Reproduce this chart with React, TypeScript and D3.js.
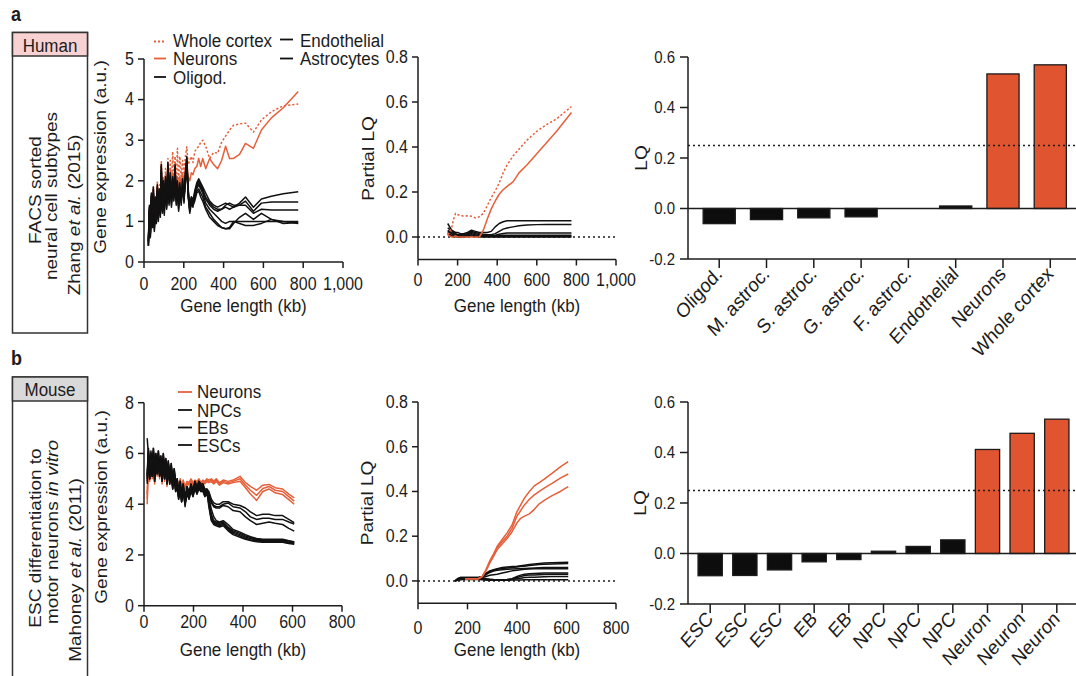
import React from "react";
import * as d3 from "d3";

// ---------------- DATA ----------------
// Panel a, left: gene expression vs gene length (kb)
const aLenKb = [22,27,32,37,42,47,52,57,62,67,72,77,82,87,92,97,102,108,114,120,126,132,138,144,150,156,162,168,174,180,187,194,201,208,215,222,230,238,246,255,265,275,285,295,310,330,350,370,390,410,430,450,480,510,550,590,640,700,775];
const aWholeCortex = [0.4,1.3,0.75,1.65,0.95,1.85,0.9,1.6,1.1,2.0, 1.3,1.9,1.4,2.47,1.5,2.1,1.5,2.3,1.7,2.55, 1.8,2.5,1.8,2.72,1.95,2.6,1.9,2.8,1.9,2.6, 2.1,2.5,2.2,2.6,2.84,2.4,2.5,2.6,2.45,2.72, 2.8,2.85,2.95,3.0, 2.85,2.55,2.7,2.68,2.95,3.1,3.25,3.37,3.4,3.42,3.2,3.5,3.7,3.85,3.89];
const aNeurons = [0.4,1.3,0.7,1.6,0.9,1.8,0.85,1.55,1.05,1.9, 1.2,1.8,1.3,2.4,1.4,2.0,1.4,2.15,1.6,2.45, 1.7,2.3,1.7,2.2,1.85,2.4,1.8,2.1,1.7,2.1, 1.9,2.2,1.95,2.3,2.5,2.1,2.0,2.2,2.15,2.3, 2.35,2.55,2.35,2.55, 2.3,2.55,2.4,2.3,2.5,2.85,2.55,2.55,2.65,2.92,2.8,3.25,3.55,3.8,4.2];
const aOligod = [0.5,1.35,0.75,1.65,0.95,1.8,0.85,1.55,1.05,1.85, 1.15,1.75,1.25,2.35,1.35,1.95,1.3,2.05,1.45,2.4, 1.55,2.15,1.5,2.05,1.65,2.35,1.55,1.95,1.4,1.9, 1.55,2.0,1.6,2.15,2.55,1.75,1.35,1.6,1.5,1.75, 1.95,2.05,1.95,1.85, 1.7,1.5,1.4,1.35,1.4,1.45,1.4,1.35,1.45,1.6,1.35,1.55,1.62,1.68,1.73];
const aAstroM = [0.45,1.25,0.65,1.55,0.85,1.7,0.8,1.45,0.95,1.75, 1.05,1.65,1.15,2.25,1.25,1.85,1.2,1.95,1.35,2.3, 1.45,2.05,1.4,1.95,1.55,2.25,1.45,1.85,1.3,1.8, 1.45,1.9,1.5,2.05,2.45,1.65,1.25,1.5,1.4,1.65, 1.85,1.95,1.85,1.75, 1.6,1.45,1.35,1.3,1.3,1.35,1.3,1.35,1.4,1.5,1.25,1.45,1.48,1.48,1.48];
const aAstroS = [0.4,1.3,0.6,1.6,0.9,1.65,0.75,1.5,1.0,1.8, 1.1,1.7,1.2,2.2,1.3,1.9,1.25,2.0,1.4,2.3, 1.5,2.1,1.45,2.0,1.6,2.3,1.5,1.9,1.35,1.85, 1.5,1.95,1.55,2.1,2.5,1.7,1.3,1.55,1.45,1.7, 1.9,2.0,1.9,1.8, 1.55,1.4,1.3,1.25,1.3,1.4,1.45,1.4,1.4,1.4,1.2,1.3,1.28,1.28,1.28];
const aAstroG = [0.5,1.2,0.8,1.5,1.0,1.7,0.9,1.4,1.1,1.7, 1.2,1.6,1.3,2.1,1.4,1.8,1.35,1.9,1.5,2.2, 1.6,2.0,1.55,1.9,1.7,2.2,1.6,1.8,1.45,1.75, 1.6,1.85,1.65,2.0,2.35,1.8,1.4,1.6,1.55,1.6, 1.8,1.9,1.8,1.7, 1.45,1.3,1.2,1.1,1.0,0.95,1.0,1.0,1.0,1.0,1.0,1.0,1.0,1.0,1.0];
const aAstroF = [0.55,1.4,0.7,1.7,0.85,1.85,0.85,1.6,0.95,1.9, 1.0,1.8,1.1,2.4,1.2,2.0,1.15,2.1,1.3,2.45, 1.4,2.2,1.35,2.1,1.5,2.4,1.4,2.0,1.25,1.95, 1.4,2.05,1.45,2.2,2.6,1.6,1.2,1.45,1.35,1.6, 1.75,1.8,1.7,1.6, 1.35,1.2,1.05,0.95,0.85,0.82,0.82,0.95,1.1,1.2,1.05,1.2,1.05,0.95,0.97];
const aEndothelial = [0.4,1.15,0.7,1.45,0.9,1.6,0.95,1.35,1.05,1.65, 1.15,1.55,1.25,2.0,1.35,1.75,1.3,1.85,1.45,2.15, 1.55,1.95,1.5,1.85,1.65,2.15,1.55,1.75,1.4,1.7, 1.55,1.8,1.6,1.95,2.3,1.65,1.3,1.5,1.4,1.5, 1.7,1.75,1.6,1.5, 1.3,1.1,1.0,0.9,0.85,0.82,0.85,1.0,0.95,0.9,0.9,0.95,1.05,1.0,0.95];

// Panel a, middle: partial LQ
const aPlqKb = [150,160,170,180,190,200,215,230,250,270,290,310,330,350,370,390,410,430,450,480,510,550,600,650,700,775];
const aPlqWholeCortex = [0.01,0.02,0.04,0.08,0.105,0.1,0.095,0.093,0.094,0.092,0.085,0.09,0.105,0.14,0.175,0.205,0.24,0.285,0.32,0.36,0.39,0.43,0.47,0.5,0.525,0.58];
const aPlqNeurons = [0.01,0.005,0.0,0.0,0.005,0.0,0.0,0.0,0.0,0.0,0.0,0.0,0.03,0.08,0.125,0.16,0.19,0.21,0.225,0.245,0.285,0.32,0.37,0.42,0.47,0.553];
const aPlqK1 = [0.06,0.045,0.03,0.025,0.02,0.02,0.015,0.015,0.02,0.03,0.025,0.02,0.02,0.02,0.025,0.045,0.06,0.068,0.072,0.072,0.072,0.072,0.072,0.072,0.072,0.072];
const aPlqK2 = [0.04,0.035,0.03,0.02,0.015,0.01,0.01,0.012,0.015,0.025,0.02,0.015,0.012,0.01,0.01,0.015,0.025,0.035,0.04,0.045,0.05,0.053,0.055,0.056,0.056,0.056];
const aPlqK3 = [0.03,0.025,0.02,0.015,0.012,0.01,0.008,0.01,0.012,0.02,0.015,0.01,0.008,0.006,0.006,0.008,0.012,0.016,0.018,0.018,0.018,0.018,0.018,0.018,0.018,0.018];
const aPlqK4 = [0.025,0.02,0.015,0.01,0.008,0.006,0.005,0.006,0.01,0.015,0.01,0.008,0.006,0.005,0.005,0.006,0.007,0.008,0.008,0.008,0.008,0.008,0.008,0.008,0.008,0.008];
const aPlqK5 = [0.02,0.012,0.008,0.005,0.003,0.003,0.002,0.003,0.006,0.01,0.006,0.004,0.002,0.002,0.002,0.002,0.002,0.002,0.002,0.002,0.002,0.002,0.002,0.002,0.002,0.002];
const aPlqK6 = [0.015,0.008,0.004,0.002,0.001,0.0,0.0,0.0,0.002,0.005,0.002,0.0,0.0,0.0,0.0,0.0,0.0,0.0,0.0,0.0,0.0,0.0,0.0,0.0,0.0,0.0];

// Panel a, right: LQ per cell type
const aCats = ["Oligod.","M. astroc.","S. astroc.","G. astroc.","F. astroc.","Endothelial","Neurons","Whole cortex"];
const aLQ = [-0.06,-0.044,-0.037,-0.033,0.0,0.01,0.533,0.569];
const aNeuronal = [false,false,false,false,false,false,true,true];

// Panel b, left
const bLenKb = [13,18,23,28,33,38,43,48,53,58, 63,68,73,78,83,88,93,98,104,110, 116,122,128,134,140,146,152,158,166,174, 182,190,198,206,214,222,230,238,246,254, 262,272,282,292,305,320,340,360,388,410, 430,455,480,505,530,560,585,607];
const bNeuron1 = [4.0,5.9,5.1,5.9,5.2,6.1,5.0,5.9,5.3,6.0, 5.2,5.8,5.0,5.9,5.1,5.7,4.9,5.6,5.0,5.5, 4.8,5.3,4.8,5.0,4.7,5.0,4.75,4.95,4.7,4.9, 4.85,5.0,4.85,4.95,4.9,5.0,4.85,4.95,4.9,5.0, 4.95,5.0,4.9,5.0,4.85,4.95,4.9,4.95,5.1,4.85, 4.7,4.55,4.75,4.78,4.65,4.6,4.4,4.25];
const bNeuron2 = [4.2,5.8,5.0,5.8,5.1,6.0,4.9,5.8,5.2,5.9, 5.1,5.7,4.9,5.8,5.0,5.6,4.8,5.5,4.9,5.4, 4.7,5.2,4.7,4.9,4.65,4.9,4.7,4.85,4.65,4.85, 4.8,4.95,4.8,4.9,4.85,4.95,4.8,4.9,4.85,4.95, 4.9,4.95,4.85,4.95,4.8,4.9,4.85,4.9,5.0,4.75, 4.55,4.35,4.62,4.7,4.55,4.5,4.3,4.12];
const bNeuron3 = [4.4,5.7,4.9,5.7,5.0,5.9,4.8,5.7,5.1,5.8, 5.0,5.6,4.8,5.7,4.9,5.5,4.7,5.4,4.8,5.3, 4.6,5.1,4.6,4.8,4.6,4.8,4.65,4.8,4.6,4.8, 4.75,4.9,4.75,4.85,4.8,4.9,4.75,4.85,4.8,4.9, 4.85,4.9,4.8,4.9,4.75,4.85,4.8,4.85,4.9,4.65, 4.4,4.15,4.5,4.6,4.45,4.38,4.18,4.0];
const bNPC1 = [5.1,6.1,5.2,6.0,5.3,6.2,5.1,6.0,5.4,6.1, 5.3,5.9,5.1,6.0,5.2,5.8,5.0,5.7,5.0,5.6, 4.8,5.4,4.7,5.0,4.4,4.9,4.3,4.8,4.2,4.7, 4.4,4.8,4.5,4.9,4.6,4.9,4.7,4.8,4.5,4.6, 4.5,4.2,4.05,4.0,4.0,4.1,4.1,4.0,3.95,3.85, 3.7,3.55,3.6,3.6,3.55,3.55,3.4,3.27];
const bNPC2 = [6.6,5.9,5.0,5.8,5.1,6.0,4.9,5.8,5.2,5.9, 5.1,5.7,4.9,5.8,5.0,5.6,4.8,5.5,4.8,5.4, 4.6,5.2,4.5,4.8,4.2,4.7,4.1,4.6,4.0,4.5, 4.2,4.6,4.3,4.7,4.4,4.7,4.5,4.6,4.3,4.5, 4.45,4.1,3.95,3.9,3.9,4.0,4.05,3.9,3.85,3.7, 3.5,3.4,3.45,3.45,3.4,3.4,3.3,3.22];
const bNPC3 = [4.9,6.0,5.2,6.0,5.3,6.0,5.1,5.8,5.4,5.9, 5.3,5.8,5.1,5.8,5.2,5.6,5.0,5.5,5.0,5.4, 4.8,5.2,4.7,4.8,4.4,4.7,4.3,4.6,4.2,4.5, 4.4,4.6,4.5,4.7,4.6,4.7,4.7,4.6,4.5,4.5, 4.4,4.05,3.9,3.85,3.85,3.95,3.9,3.75,3.7,3.5, 3.35,3.2,3.25,3.3,3.25,3.2,3.05,2.94];
const bEB1 = [5.2,5.8,5.0,5.7,5.1,5.9,4.9,5.7,5.2,5.8, 5.1,5.6,4.9,5.7,5.0,5.5,4.8,5.4,4.8,5.3, 4.6,5.1,4.5,4.7,4.2,4.6,4.1,4.5,4.0,4.4, 4.2,4.5,4.3,4.6,4.4,4.6,4.5,4.5,4.3,4.4, 4.2,3.6,3.35,3.3,3.25,3.3,3.1,2.95,2.85,2.75, 2.7,2.62,2.6,2.6,2.6,2.6,2.55,2.52];
const bEB2 = [4.8,6.1,5.3,6.1,5.4,6.2,5.2,6.0,5.5,6.1, 5.4,5.9,5.2,6.0,5.3,5.8,5.1,5.7,5.1,5.6, 4.9,5.4,4.8,5.0,4.5,4.9,4.4,4.8,4.3,4.7, 4.5,4.8,4.6,4.9,4.7,4.9,4.8,4.8,4.6,4.6, 4.1,3.5,3.3,3.25,3.2,3.25,3.05,2.9,2.8,2.7, 2.65,2.58,2.56,2.56,2.56,2.56,2.5,2.48];
const bESC1 = [5.0,5.9,5.1,5.8,5.2,6.0,5.0,5.8,5.3,5.9, 5.2,5.7,5.0,5.8,5.1,5.6,4.9,5.5,4.9,5.4, 4.7,5.2,4.6,4.8,4.3,4.7,4.2,4.6,4.1,4.5, 4.3,4.6,4.4,4.7,4.5,4.7,4.6,4.6,4.4,4.45, 4.3,3.8,3.5,3.35,3.3,3.35,3.2,3.0,2.9,2.8, 2.72,2.65,2.62,2.62,2.62,2.62,2.56,2.5];
const bESC2 = [5.3,6.2,5.2,6.0,5.1,6.1,5.1,5.9,5.2,6.0, 5.1,5.8,5.1,5.9,5.0,5.7,5.0,5.6,4.9,5.5, 4.7,5.3,4.5,4.9,4.3,4.8,4.1,4.7,3.9,4.6, 4.3,4.7,4.4,4.8,4.5,4.8,4.6,4.7,4.4,4.5, 4.0,3.4,3.25,3.2,3.15,3.2,3.0,2.85,2.75,2.65, 2.6,2.55,2.52,2.52,2.52,2.52,2.47,2.45];
const bESC3 = [5.1,5.7,5.0,5.9,5.3,6.0,5.0,5.9,5.3,5.9, 5.2,5.8,5.0,5.8,5.1,5.7,4.9,5.6,4.9,5.5, 4.7,5.3,4.6,4.9,4.3,4.8,4.2,4.7,4.1,4.6, 4.3,4.7,4.4,4.8,4.5,4.8,4.6,4.7,4.4,4.5, 3.9,3.35,3.2,3.15,3.1,3.15,2.95,2.8,2.7,2.62, 2.57,2.52,2.5,2.5,2.5,2.5,2.45,2.42];

// Panel b, middle: partial LQ
const bPlqKb = [150,160,170,180,190,200,215,230,245,260,275,290,305,320,340,360,380,400,415,430,450,470,490,510,540,575,607];
const bPlqNeuron1 = [null,null,null,null,0.01,0.01,0.01,0.01,0.01,0.02,0.05,0.09,0.12,0.155,0.185,0.215,0.25,0.31,0.34,0.37,0.40,0.425,0.44,0.455,0.48,0.51,0.533];
const bPlqNeuron2 = [null,null,null,null,0.01,0.01,0.01,0.01,0.01,0.02,0.05,0.085,0.115,0.15,0.175,0.2,0.235,0.29,0.315,0.34,0.365,0.385,0.40,0.415,0.435,0.46,0.478];
const bPlqNeuron3 = [null,null,null,null,0.01,0.01,0.01,0.01,0.01,0.02,0.045,0.08,0.11,0.14,0.165,0.19,0.22,0.26,0.28,0.29,0.30,0.32,0.345,0.36,0.38,0.40,0.422];
const bPlqK1 = [0.0,0.01,0.015,0.015,0.015,0.015,0.015,0.015,0.015,0.02,0.035,0.045,0.05,0.055,0.06,0.062,0.064,0.066,0.068,0.07,0.073,0.076,0.078,0.08,0.081,0.082,0.083];
const bPlqK2 = [0.0,0.01,0.015,0.015,0.015,0.015,0.015,0.015,0.015,0.02,0.032,0.042,0.048,0.052,0.056,0.058,0.06,0.062,0.064,0.066,0.069,0.071,0.073,0.075,0.076,0.077,0.078];
const bPlqK3 = [0.0,0.008,0.012,0.014,0.014,0.014,0.014,0.014,0.014,0.018,0.028,0.038,0.044,0.048,0.05,0.052,0.053,0.054,0.055,0.056,0.057,0.058,0.059,0.06,0.06,0.06,0.06];
const bPlqK4 = [0.0,0.008,0.012,0.013,0.013,0.013,0.013,0.013,0.013,0.015,0.02,0.025,0.028,0.03,0.035,0.04,0.045,0.048,0.05,0.052,0.053,0.054,0.054,0.055,0.055,0.055,0.055];
const bPlqK5 = [0.0,0.006,0.01,0.012,0.012,0.012,0.012,0.012,0.012,0.012,0.01,0.008,0.006,0.005,0.005,0.006,0.01,0.02,0.026,0.03,0.032,0.033,0.034,0.035,0.035,0.035,0.035];
const bPlqK6 = [0.0,0.005,0.008,0.01,0.01,0.01,0.01,0.01,0.01,0.01,0.008,0.006,0.005,0.004,0.004,0.005,0.008,0.015,0.02,0.024,0.026,0.027,0.028,0.029,0.03,0.03,0.03];
const bPlqK7 = [0.0,0.004,0.006,0.008,0.008,0.008,0.008,0.008,0.008,0.007,0.005,0.004,0.004,0.004,0.004,0.005,0.007,0.01,0.012,0.015,0.016,0.017,0.018,0.019,0.02,0.02,0.02];
const bPlqK8 = [0.0,0.003,0.005,0.006,0.006,0.006,0.006,0.006,0.006,0.005,0.004,0.003,0.003,0.003,0.003,0.003,0.004,0.004,0.004,0.005,0.005,0.005,0.005,0.005,0.005,0.005,0.005];

// Panel b, right
const bCats = ["ESC","ESC","ESC","EB","EB","NPC","NPC","NPC","Neuron","Neuron","Neuron"];
const bLQ = [-0.088,-0.087,-0.065,-0.033,-0.024,0.009,0.028,0.054,0.412,0.476,0.532];
const bNeuronal = [false,false,false,false,false,false,false,false,true,true,true];

// Tick values
const aLeftYTicks = [0,1,2,3,4,5];
const aLenTicks = [0,200,400,600,800,1000];
const bLeftYTicks = [0,2,4,6,8];
const bLenTicks = [0,200,400,600,800];
const plqTicks = [0,0.2,0.4,0.6,0.8];
const lqTicks = [-0.2,0,0.2,0.4,0.6];

// ---------------- STYLE ----------------
const SY = 1.12;
const FONT = '"Liberation Sans", Arial, Helvetica, sans-serif';
const ORANGE = "#E5603A";
const BAR_ORANGE = "#E0542F";
const INK = "#1c1c1c";
const DOT = "2,3";

function T({ x, y, size = 16, anchor = "start", rot = 0, weight = 400, fill = INK, mid = false, children }: any) {
  return (
    <text
      transform={`translate(${x},${y}) scale(1,${SY})${rot ? ` rotate(${rot})` : ""}`}
      fontSize={size}
      textAnchor={anchor}
      fontWeight={weight}
      fill={fill}
      fontFamily={FONT}
      dominantBaseline={mid ? "central" : undefined}
    >
      {children}
    </text>
  );
}

const fmtComma = d3.format(",");
const fmt1 = (v: number) => d3.format(".1f")(v).replace("\u2212", "-");

function YAxis({ y, x, ticks, fmt, len = 6, gap = 4, size = 16 }: any) {
  const [r0, r1] = y.range();
  return (
    <g>
      <line x1={x} x2={x} y1={r0} y2={r1} stroke={INK} strokeWidth={1.5} />
      {ticks.map((t: number) => (
        <g key={t}>
          <line x1={x - len} x2={x} y1={y(t)} y2={y(t)} stroke={INK} strokeWidth={1.5} />
          <T x={x - len - gap} y={y(t)} size={size} anchor="end" mid>{fmt(t)}</T>
        </g>
      ))}
    </g>
  );
}

function XAxis({ x, y, ticks, fmt, len = 6, labelY, size = 16, title, titleY }: any) {
  const [r0, r1] = x.range();
  return (
    <g>
      <line x1={r0} x2={r1} y1={y} y2={y} stroke={INK} strokeWidth={1.5} />
      {ticks.map((t: number) => (
        <g key={t}>
          <line x1={x(t)} x2={x(t)} y1={y} y2={y + len} stroke={INK} strokeWidth={1.5} />
          <T x={x(t)} y={labelY} size={size} anchor="middle">{fmt(t)}</T>
        </g>
      ))}
      <T x={(r0 + r1) / 2} y={titleY} size={17} anchor="middle">{title}</T>
    </g>
  );
}

function Series({ x, y, kb, vals, color, dashed = false, width = 1.5 }: any) {
  const pts: [number, number][] = [];
  vals.forEach((v: number | null, i: number) => {
    if (v !== null && v !== undefined) pts.push([x(kb[i]), y(v)]);
  });
  const d = d3.line()(pts) || "";
  return (
    <path d={d} fill="none" stroke={color} strokeWidth={width}
      strokeDasharray={dashed ? "2.2,2" : undefined} strokeLinejoin="round" />
  );
}

function Bars({ cats, vals, hi, x, y, axisY }: any) {
  const [r0, r1] = x.range();
  const y0 = y(0);
  return (
    <g>
      {vals.map((v: number, i: number) => {
        const yy = y(v);
        const h = Math.abs(yy - y0);
        if (h < 0.5) return null;
        return (
          <rect key={i} x={x(i)} width={x.bandwidth()} y={Math.min(yy, y0)} height={h}
            fill={hi[i] ? BAR_ORANGE : "#0d0d0d"} stroke={INK} strokeWidth={1.3} />
        );
      })}
      <line x1={r0} x2={r1} y1={y0} y2={y0} stroke={INK} strokeWidth={1.5} />
      <line x1={r0} x2={r1} y1={y(0.25)} y2={y(0.25)} stroke={INK} strokeWidth={1.5} strokeDasharray={DOT} />
      <line x1={r0} x2={r1} y1={axisY} y2={axisY} stroke={INK} strokeWidth={1.5} />
      {cats.map((c: string, i: number) => {
        const cx = (x(i) as number) + x.bandwidth() / 2;
        return (
          <g key={i}>
            <line x1={cx} x2={cx} y1={axisY} y2={axisY + 9} stroke={INK} strokeWidth={1.5} />
            <T x={cx + 4} y={axisY + 16} size={18} anchor="end" rot={-45}>{c}</T>
          </g>
        );
      })}
    </g>
  );
}

export default function App() {
  // scales
  const aLeftX = d3.scaleLinear().domain([0, 1000]).range([144, 343]);
  const aLeftY = d3.scaleLinear().domain([0, 5]).range([262, 59]);
  const aMidX = d3.scaleLinear().domain([0, 1000]).range([418, 616]);
  const aMidY = d3.scaleLinear().domain([-0.1, 0.8]).range([259.5, 57]);
  const aBarY = d3.scaleLinear().domain([-0.2, 0.6]).range([259, 57]);
  const aBarX = d3.scaleBand<number>().domain(d3.range(aCats.length)).range([688, 1081.5]).paddingInner(0.32).paddingOuter(0.32);

  const bLeftX = d3.scaleLinear().domain([0, 800]).range([144, 342]);
  const bLeftY = d3.scaleLinear().domain([0, 8]).range([605.7, 402.7]);
  const bMidX = d3.scaleLinear().domain([0, 800]).range([418, 616]);
  const bMidY = d3.scaleLinear().domain([-0.1, 0.8]).range([603.3, 402]);
  const bBarY = d3.scaleLinear().domain([-0.2, 0.6]).range([604, 402]);
  const bBarX = d3.scaleBand<number>().domain(d3.range(bCats.length)).range([688, 1079]).paddingInner(0.3).paddingOuter(0.29);

  const aBlack = [aOligod, aAstroM, aAstroS, aAstroG, aAstroF, aEndothelial];
  const aPlqBlack = [aPlqK1, aPlqK2, aPlqK3, aPlqK4, aPlqK5, aPlqK6];
  const bOrange = [bNeuron1, bNeuron2, bNeuron3];
  const bBlack = [bNPC1, bNPC2, bNPC3, bEB1, bEB2, bESC1, bESC2, bESC3];
  const bPlqOrange = [bPlqNeuron1, bPlqNeuron2, bPlqNeuron3];
  const bPlqBlack = [bPlqK1, bPlqK2, bPlqK3, bPlqK4, bPlqK5, bPlqK6, bPlqK7, bPlqK8];

  const fmtInt = (v: number) => String(v);

  return (
    <svg width={1076} height={676} style={{ position: "absolute", left: 0, top: 0, background: "#fff" }}
      fontFamily={FONT}>
      <rect x={0} y={0} width={1076} height={676} fill="#fff" />

      {/* ---------- panel letters ---------- */}
      <T x={11} y={20.5} size={18} weight={700}>a</T>
      <T x={11} y={365} size={18} weight={700}>b</T>

      {/* ---------- side boxes ---------- */}
      <rect x={12.5} y={32.5} width={75} height={300.5} fill="#fff" stroke="#333" strokeWidth={1.5} />
      <rect x={12.5} y={32.5} width={75} height={23.5} fill="#F8D2D2" stroke="#333" strokeWidth={1.5} />
      <T x={50} y={51.5} size={17} anchor="middle">Human</T>
      <T x={40.5} y={190} size={17} anchor="middle" rot={-90}>FACS sorted</T>
      <T x={57} y={196} size={17} anchor="middle" rot={-90}>neural cell subtypes</T>
      <T x={80} y={215} size={17} anchor="middle" rot={-90}>
        Zhang <tspan fontStyle="italic">et al.</tspan> (2015)
      </T>

      <rect x={12.5} y={377} width={75} height={320} fill="#fff" stroke="#333" strokeWidth={1.5} />
      <rect x={12.5} y={377} width={75} height={24} fill="#D9D9D9" stroke="#333" strokeWidth={1.5} />
      <T x={50} y={395.5} size={17} anchor="middle">Mouse</T>
      <T x={40.5} y={538} size={17} anchor="middle" rot={-90}>ESC differentiation to</T>
      <T x={58} y={532} size={17} anchor="middle" rot={-90}>
        motor neurons <tspan fontStyle="italic">in vitro</tspan>
      </T>
      <T x={81} y={570} size={17} anchor="middle" rot={-90}>
        Mahoney <tspan fontStyle="italic">et al.</tspan> (2011)
      </T>

      {/* ---------- a left ---------- */}
      <T x={105.5} y={157} size={17} anchor="middle" rot={-90}>Gene expression (a.u.)</T>
      <Series x={aLeftX} y={aLeftY} kb={aLenKb} vals={aWholeCortex} color={ORANGE} dashed />
      <Series x={aLeftX} y={aLeftY} kb={aLenKb} vals={aNeurons} color={ORANGE} />
      {aBlack.map((s, i) => (
        <Series key={i} x={aLeftX} y={aLeftY} kb={aLenKb} vals={s} color="#111" />
      ))}
      <YAxis y={aLeftY} x={144} ticks={aLeftYTicks} fmt={fmtInt} len={6} gap={4} />
      <XAxis x={aLeftX} y={262} ticks={aLenTicks} fmt={fmtComma} len={6} labelY={290} title="Gene length (kb)" titleY={312} />
      {/* legend a */}
      <line x1={154} x2={166} y1={41.5} y2={41.5} stroke={ORANGE} strokeWidth={1.8} strokeDasharray="2,2" />
      <T x={173} y={47} size={17}>Whole cortex</T>
      <line x1={154} x2={166} y1={58.5} y2={58.5} stroke={ORANGE} strokeWidth={1.8} />
      <T x={173} y={65} size={17}>Neurons</T>
      <line x1={154} x2={166} y1={77} y2={77} stroke="#111" strokeWidth={1.8} />
      <T x={173} y={83.5} size={17}>Oligod.</T>
      <line x1={280} x2={293} y1={39.5} y2={39.5} stroke="#111" strokeWidth={1.8} />
      <T x={300} y={47} size={17}>Endothelial</T>
      <line x1={280} x2={293} y1={58.5} y2={58.5} stroke="#111" strokeWidth={1.8} />
      <T x={300} y={65} size={17}>Astrocytes</T>

      {/* ---------- a middle ---------- */}
      <T x={374} y={158.5} size={17} anchor="middle" rot={-90}>Partial LQ</T>
      <line x1={418} x2={616} y1={aMidY(0)} y2={aMidY(0)} stroke={INK} strokeWidth={1.5} strokeDasharray={DOT} />
      {aPlqBlack.map((s, i) => (
        <Series key={i} x={aMidX} y={aMidY} kb={aPlqKb} vals={s} color="#111" />
      ))}
      <Series x={aMidX} y={aMidY} kb={aPlqKb} vals={aPlqWholeCortex} color={ORANGE} dashed />
      <Series x={aMidX} y={aMidY} kb={aPlqKb} vals={aPlqNeurons} color={ORANGE} />
      <YAxis y={aMidY} x={418} ticks={plqTicks} fmt={fmt1} len={6} gap={4} />
      <XAxis x={aMidX} y={259.5} ticks={aLenTicks} fmt={fmtComma} len={6} labelY={286} title="Gene length (kb)" titleY={312} />

      {/* ---------- a right ---------- */}
      <T x={647} y={158} size={17} anchor="middle" rot={-90}>LQ</T>
      <Bars cats={aCats} vals={aLQ} hi={aNeuronal} x={aBarX} y={aBarY} axisY={259} />
      <YAxis y={aBarY} x={688} ticks={lqTicks} fmt={fmt1} len={8} gap={5} size={15} />

      {/* ---------- b left ---------- */}
      <T x={107} y={507} size={17} anchor="middle" rot={-90}>Gene expression (a.u.)</T>
      {bOrange.map((s, i) => (
        <Series key={i} x={bLeftX} y={bLeftY} kb={bLenKb} vals={s} color={ORANGE} />
      ))}
      {bBlack.map((s, i) => (
        <Series key={i} x={bLeftX} y={bLeftY} kb={bLenKb} vals={s} color="#111" />
      ))}
      <YAxis y={bLeftY} x={144} ticks={bLeftYTicks} fmt={fmtInt} len={6} gap={4} />
      <XAxis x={bLeftX} y={605.7} ticks={bLenTicks} fmt={fmtComma} len={6} labelY={628} title="Gene length (kb)" titleY={656} />
      {/* legend b */}
      <line x1={178} x2={192} y1={392} y2={392} stroke={ORANGE} strokeWidth={1.8} />
      <T x={197} y={398} size={17}>Neurons</T>
      <line x1={178} x2={192} y1={410} y2={410} stroke="#111" strokeWidth={1.8} />
      <T x={197} y={416.5} size={17}>NPCs</T>
      <line x1={178} x2={192} y1={427.5} y2={427.5} stroke="#111" strokeWidth={1.8} />
      <T x={197} y={434} size={17}>EBs</T>
      <line x1={178} x2={192} y1={445} y2={445} stroke="#111" strokeWidth={1.8} />
      <T x={197} y={452} size={17}>ESCs</T>

      {/* ---------- b middle ---------- */}
      <T x={373} y={503} size={17} anchor="middle" rot={-90}>Partial LQ</T>
      <line x1={418} x2={616} y1={bMidY(0)} y2={bMidY(0)} stroke={INK} strokeWidth={1.5} strokeDasharray={DOT} />
      {bPlqBlack.map((s, i) => (
        <Series key={i} x={bMidX} y={bMidY} kb={bPlqKb} vals={s} color="#111" />
      ))}
      {bPlqOrange.map((s, i) => (
        <Series key={i} x={bMidX} y={bMidY} kb={bPlqKb} vals={s} color={ORANGE} />
      ))}
      <YAxis y={bMidY} x={418} ticks={plqTicks} fmt={fmt1} len={6} gap={4} />
      <XAxis x={bMidX} y={603.3} ticks={bLenTicks} fmt={fmtComma} len={6} labelY={634} title="Gene length (kb)" titleY={656} />

      {/* ---------- b right ---------- */}
      <T x={646} y={503} size={17} anchor="middle" rot={-90}>LQ</T>
      <Bars cats={bCats} vals={bLQ} hi={bNeuronal} x={bBarX} y={bBarY} axisY={604} />
      <YAxis y={bBarY} x={688} ticks={lqTicks} fmt={fmt1} len={8} gap={5} size={15} />
    </svg>
  );
}
